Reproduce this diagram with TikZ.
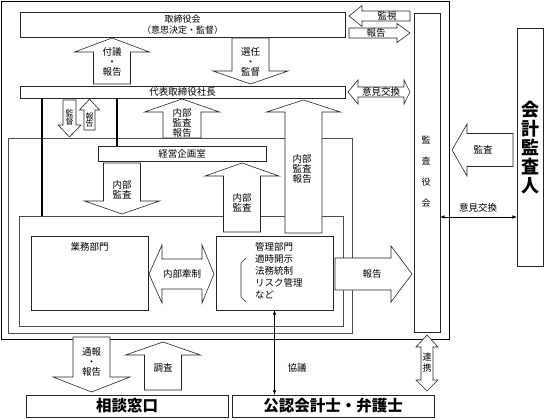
\documentclass[tikz,border=0pt]{standalone}
\usepackage{fontspec}
\setmainfont{Noto Sans CJK JP}

% block arrows, pixel units (y grows downward)
\newcommand{\vblk}[6]{% x, tail y, head base y, tip y, body half, head half
  \draw[blk] ({#1-#5},#2) -- ({#1-#5},#3) -- ({#1-#6},#3) -- (#1,#4) -- ({#1+#6},#3) -- ({#1+#5},#3) -- ({#1+#5},#2) -- cycle;}
\newcommand{\hblk}[6]{% y, tail x, head base x, tip x, body half, head half
  \draw[blk] (#2,{#1-#5}) -- (#3,{#1-#5}) -- (#3,{#1-#6}) -- (#4,#1) -- (#3,{#1+#6}) -- (#3,{#1+#5}) -- (#2,{#1+#5}) -- cycle;}
\newcommand{\hdbl}[7]{% y, left tip, left base, right base, right tip, body half, head half
  \draw[blk] (#2,#1) -- (#3,{#1-#7}) -- (#3,{#1-#6}) -- (#4,{#1-#6}) -- (#4,{#1-#7}) -- (#5,#1) -- (#4,{#1+#7}) -- (#4,{#1+#6}) -- (#3,{#1+#6}) -- (#3,{#1+#7}) -- cycle;}
\newcommand{\vdbl}[7]{% x, top tip, top base, bottom base, bottom tip, body half, head half
  \draw[blk] (#1,#2) -- ({#1-#7},#3) -- ({#1-#6},#3) -- ({#1-#6},#4) -- ({#1-#7},#4) -- (#1,#5) -- ({#1+#7},#4) -- ({#1+#6},#4) -- ({#1+#6},#3) -- ({#1+#7},#3) -- cycle;}

\tikzset{
  box/.style={draw=black!85, line width=0.6pt, fill=white, inner sep=0pt, outer sep=0pt},
  blk/.style={draw=black!85, line width=0.6pt, fill=white},
  frm/.style={draw=black!70, line width=0.6pt},
  bar/.style={line width=1.6pt, black},
  txt/.style={font=\fontsize{9.5}{10}\selectfont, align=center, inner sep=0pt},
  tiny/.style={font=\fontsize{8}{8}\selectfont, align=center, inner sep=0pt},
  big/.style={font=\fontsize{15.5}{16}\selectfont\bfseries, inner sep=0pt},
  link/.style={<->, >=latex, line width=0.6pt},
}

\begin{document}
\begin{tikzpicture}[x=1pt, y=-1pt]
	\useasboundingbox (0,0) rectangle (544,420);

	% frames
	\draw[line width=0.8pt] (1,1) rectangle (449,339);
	\draw[frm] (8,138) rectangle (352,333);
	\draw[frm] (19,216) rectangle (343,326);

	% boxes
	\node[box, minimum width=325pt, minimum height=25pt, font=\fontsize{9}{11}\selectfont, align=center] (board) at (182.5,24.5) {取締役会\\（意思決定・監督）};
	\node[box, minimum width=325pt, minimum height=12pt, txt] (ceo) at (182.5,92) {代表取締役社長};
	\node[box, minimum width=168pt, minimum height=15pt, txt] (plan) at (182,153.5) {経営企画室};
	\node[box, minimum width=117pt, minimum height=74pt] (biz) at (89.5,273) {};
	\node[box, minimum width=117pt, minimum height=74pt] (kanri) at (274.5,273) {};
	\node[box, minimum width=26pt, minimum height=319pt] (audit) at (427,172.5) {};
	\node[box, minimum width=26pt, minimum height=238pt] (cpa) at (530,147) {};
	\node[box, minimum width=202pt, minimum height=22pt, big] (soudan) at (127,406) {相談窓口};
	\node[box, minimum width=202pt, minimum height=22pt, big] (lawyer) at (333,406) {公認会計士・弁護士};

	\node[txt] (biztxt) at (89.5,247) {業務部門};
	\node[txt, font=\fontsize{9.5}{12}\selectfont, align=left, anchor=west] (kanritxt) at (255,271) {管理部門\\適時開示\\法務統制\\リスク管理\\など};
	\draw[black!85, line width=0.6pt] (246,258) -- (241,263) -- (241,297) -- (246,302);
	\node[txt, font=\fontsize{9}{21}\selectfont] (audittxt) at (426,172) {監\\査\\役\\会};
	\node[font=\fontsize{18}{19}\selectfont\bfseries, align=center, inner sep=0pt] (cpatxt) at (530,148) {会\\計\\監\\査\\人};

	% black lines from the president
	\coordinate (ctop) at (42,216);
	\coordinate (ptop) at (117,146);
	\draw[bar] (ceo.south -| ctop) -- (ctop);
	\draw[bar] (ceo.south -| ptop) -- (ptop);

	% block arrows
	\vblk{112}{84}{52}{38}{18.5}{37.5}
	\node[txt] (fugi) at (112,62) {付議\\・\\報告};
	\vblk{250.5}{38}{71}{84}{18.5}{37.5}
	\node[txt] (senin) at (250.5,62) {選任\\・\\監督};
	\hblk{16}{410}{362}{349}{5}{10.5}
	\node[txt] (kanshi) at (387,16) {監視};
	\hblk{33}{349}{397}{410}{5}{9.5}
	\node[txt] (hokoku1) at (376,33) {報告};
	\hdbl{92}{348}{358}{404}{410}{5}{12}
	\node[txt] (iken1) at (381,92) {意見交換};
	\vblk{69.5}{100}{125}{137}{6.5}{11.5}
	\node[tiny] (kantoku) at (69.5,117) {監\\督};
	\vblk{89.5}{130}{110}{99}{5.5}{10}
	\node[tiny] (hokoku2) at (89.5,120) {報\\告};
	\vblk{182}{138}{112}{99}{19}{37.5}
	\node[txt] (naibu1) at (182,123) {内部\\監査\\報告};
	\vblk{303.5}{233}{112}{100}{18.5}{37}
	\node[txt] (naibu2) at (302,169) {内部\\監査\\報告};
	\vblk{122}{163}{201}{214}{18.5}{37.5}
	\node[txt] (naibu3) at (122,190) {内部\\監査};
	\vblk{242}{232}{176}{163}{18.5}{37}
	\node[txt] (naibu4) at (242,203) {内部\\監査};
	\hdbl{274}{149}{162}{202}{214}{15}{29}
	\node[txt] (kensei) at (182,274) {内部牽制};
	\hblk{274}{335}{391}{412}{16}{28}
	\node[txt] (hokoku3) at (372,274) {報告};
	\hblk{150}{513}{467}{452}{16.5}{26}
	\node[txt] (kansa) at (483,150) {監査};
	\vblk{91.5}{337}{377}{392}{18.5}{38.5}
	\node[txt] (tsuho) at (91.5,362) {通報\\・\\報告};
	\vblk{163}{390}{355}{342}{18.5}{37.5}
	\node[txt] (chosa) at (163,368) {調査};
	\vdbl{427}{335}{347}{380}{391}{6}{11}
	\node[tiny, font=\fontsize{9}{11}\selectfont] (renkei) at (427,363) {連\\携};

	% thin links
	\coordinate (iy) at (480,217);
	\draw[link] (audit.east |- iy) -- (cpa.west |- iy);
	\node[txt] (iken2) at (478,208) {意見交換};
	\draw[link] (kanri.south) -- (kanri.south |- lawyer.north);
	\node[txt] (kyogi) at (297,368) {協議};
\end{tikzpicture}
\end{document}
